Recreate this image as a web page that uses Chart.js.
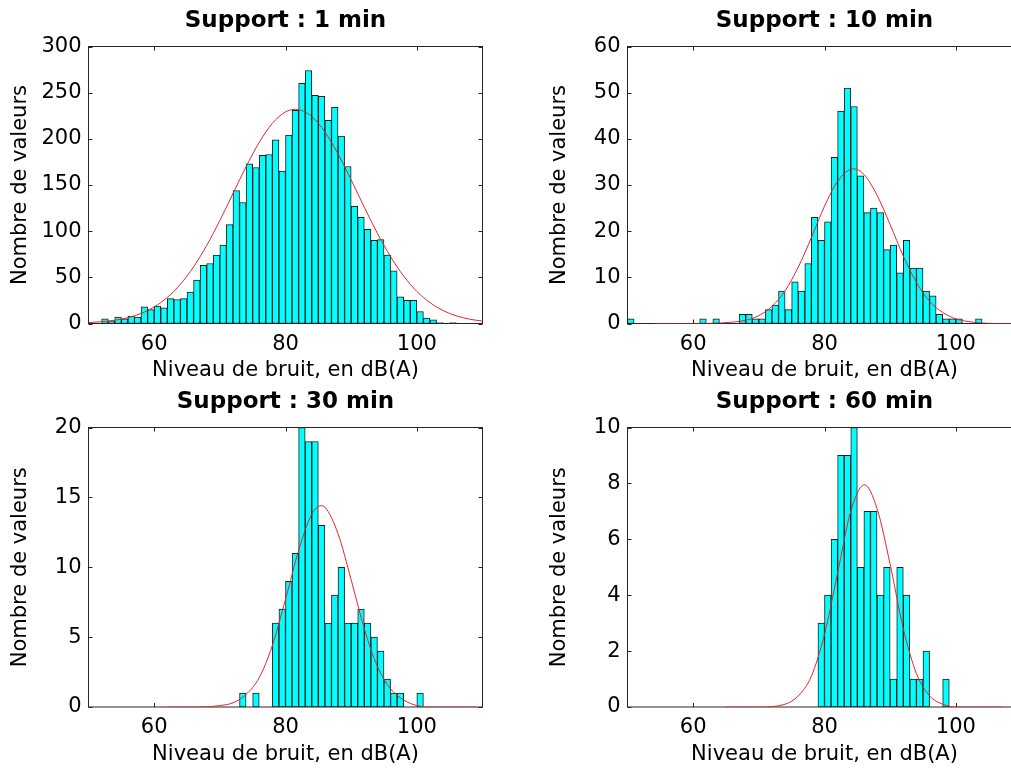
<!DOCTYPE html>
<html>
<head>
<meta charset="utf-8">
<script src="https://cdn.jsdelivr.net/npm/chart.js@4/dist/chart.umd.min.js"></script>
<style>
html,body{margin:0;padding:0;background:#fff;overflow:hidden;width:1011px;height:768px;position:relative;}
canvas{position:absolute;}
</style>
</head>
<body>
<script>
// ---------- DATA ----------
const xTicks = [60, 80, 100];
const xLabel = 'Niveau de bruit, en dB(A)';
const yLabel = 'Nombre de valeurs';

const title1 = 'Support : 1 min';
const hist1Start = 52;
const hist1Counts = [5,3,7,5,8,7,18,15,19,17,27,26,27,34,47,63,65,74,85,107,144,131,173,169,182,183,199,165,204,231,260,274,247,246,220,234,203,170,127,115,102,90,91,74,57,29,25,25,13,6,4,1,0,1];
const fit1X = [50,52,54,56,58,60,62,64,66,68,70,72,74,76,78,80,81.5,84,86,88,90,92,94,96,98,100,102,104,106,108,110];
const fit1Y = [1,1.9,3.5,6.3,10.9,17.9,28.2,42.5,61.3,84.5,111.5,140.7,169.9,196.2,216.8,229.1,232,224.1,207.4,183.6,155.5,126,97.6,72.4,51.3,34.8,22.6,14,8.3,4.7,2.6];
const y1Ticks = {max: 300, step: 50};

const title2 = 'Support : 10 min';
const hist2Start = 50;
const hist2Counts = [1,0,0,0,0,0,0,0,0,0,0,1,0,1,0,0,0,2,2,1,1,3,4,7,3,9,7,13,23,18,22,36,46,51,47,32,24,25,24,16,17,11,18,12,12,7,6,2,1,1,1,0,0,1];
const fit2X = [54,58,62,66,68,70,72,74,76,78,80,82,84.4,86,88,90,92,94,96,98,100,102,104,106,110];
const fit2Y = [0,0,0,0.3,0.7,1.7,3.7,7.1,12.2,18.6,25.4,30.8,33.5,32.3,27.8,21.4,14.6,8.9,4.8,2.4,1.0,0.4,0.1,0,0];
const y2Ticks = {max: 60, step: 10};

const title3 = 'Support : 30 min';
const hist3Start = 73;
const hist3Counts = [1,0,1,0,0,6,7,9,11,20,19,19,13,6,8,10,6,6,7,6,5,4,2,1,1,0,0,1];
const fit3X = [62,66,70,72,74,76,78,80,82,84,85.4,86,88,90,92,94,96,98,100,102,105,109];
const fit3Y = [0,0,0.1,0.3,0.9,2.1,4.4,7.7,11.2,13.8,14.4,14.3,12.4,9.1,5.6,2.9,1.3,0.5,0.1,0,0,0];
const y3Ticks = {max: 20, step: 5};

const title4 = 'Support : 60 min';
const hist4Start = 79;
const hist4Counts = [3,4,6,9,9,10,5,7,7,4,5,1,5,4,1,1,2,0,0,1];
const fit4X = [65,70,74,76,78,80,82,84,86.1,88,90,92,94,96,98,100,103,107];
const fit4Y = [0,0,0.1,0.4,1.1,2.6,4.8,7.0,7.95,7.1,5.1,2.8,1.2,0.4,0.1,0,0,0];
const y4Ticks = {max: 10, step: 2};

// ---------- LAYOUT / STYLE ----------
const FONT = 'DejaVu Sans';
const AXIS_W = 88.5;      // left axis block width
const PLOT_W = 394;
const CANVAS_W = AXIS_W * 2 + PLOT_W;
const TITLE_BLOCK = {top: 7.4, bottom: 11.5};

const framePlugin = {
  id: 'matlabFrame',
  beforeDatasetsDraw(chart) {
    const {ctx, chartArea: a, scales} = chart;
    const tl = 4;
    ctx.save();
    ctx.strokeStyle = '#262626';
    ctx.lineWidth = 1;
    ctx.strokeRect(a.left, a.top, a.right - a.left, a.bottom - a.top);
    ctx.beginPath();
    scales.x.ticks.forEach(t => {
      const px = Math.round(scales.x.getPixelForValue(t.value)) + 0.5;
      ctx.moveTo(px, a.bottom); ctx.lineTo(px, a.bottom - tl);
      ctx.moveTo(px, a.top); ctx.lineTo(px, a.top + tl);
    });
    scales.y.ticks.forEach(t => {
      const py = Math.round(scales.y.getPixelForValue(t.value)) + 0.5;
      ctx.moveTo(a.left, py); ctx.lineTo(a.left + tl, py);
      ctx.moveTo(a.right, py); ctx.lineTo(a.right - tl, py);
    });
    ctx.stroke();
    ctx.restore();
  }
};

function build(left, top, plotH, xAxisH, title, start, counts, fx, fy, yt) {
  const canvas = document.createElement('canvas');
  canvas.width = CANVAS_W;
  canvas.height = TITLE_BLOCK.top + 27.6 + TITLE_BLOCK.bottom + plotH + xAxisH;
  canvas.style.left = left + 'px';
  canvas.style.top = top + 'px';
  document.body.appendChild(canvas);

  const bars = counts.map((c, i) => ({x: start + i + 0.5, y: c}));
  const fit = fx.map((x, i) => ({x: x, y: fy[i]}));

  new Chart(canvas, {
    type: 'bar',
    data: {
      datasets: [
        {type: 'line', data: fit, borderColor: '#e3262c', borderWidth: 1, pointRadius: 0,
         cubicInterpolationMode: 'monotone', fill: false, order: 0},
        {type: 'bar', data: bars, backgroundColor: '#00ffff', borderColor: '#1b1b1b', borderWidth: 1,
         borderSkipped: false, barPercentage: 1, categoryPercentage: 1, order: 1}
      ]
    },
    options: {
      responsive: false,
      animation: false,
      events: [],
      layout: {padding: 0},
      plugins: {
        legend: {display: false},
        tooltip: {enabled: false},
        title: {display: true, text: title, color: '#000',
                font: {family: FONT, size: 23, weight: 'bold', lineHeight: 1.2},
                padding: {top: TITLE_BLOCK.top, bottom: TITLE_BLOCK.bottom}}
      },
      scales: {
        x: {
          type: 'linear', position: 'bottom', min: 50, max: 110, offset: false,
          afterBuildTicks: s => { s.ticks = xTicks.map(v => ({value: v})); },
          afterFit: s => { s.height = xAxisH; },
          grid: {display: false, drawTicks: false},
          border: {display: false},
          ticks: {color: '#000', font: {family: FONT, size: 21}, padding: 8, maxRotation: 0, autoSkip: false},
          title: {display: true, text: xLabel, color: '#000', font: {family: FONT, size: 21},
                  padding: {top: 0, bottom: xAxisH - 60.1}}
        },
        y: {
          type: 'linear', position: 'left', min: 0, max: yt.max,
          afterFit: s => { s.width = AXIS_W; },
          grid: {display: false, drawTicks: false},
          border: {display: false},
          ticks: {stepSize: yt.step, color: '#000', font: {family: FONT, size: 21}, padding: 7},
          title: {display: true, text: yLabel, color: '#000', font: {family: FONT, size: 21},
                  padding: {top: 7.9, bottom: 0}}
        },
        yR: {
          type: 'linear', position: 'right', display: true,
          afterFit: s => { s.width = CANVAS_W - AXIS_W - PLOT_W; },
          grid: {display: false, drawTicks: false},
          border: {display: false},
          ticks: {display: false},
          title: {display: false}
        }
      }
    },
    plugins: [framePlugin]
  });
}

build(0,   0,   277,   62.5, title1, hist1Start, hist1Counts, fit1X, fit1Y, y1Ticks);
build(539, 0,   277,   62.5, title2, hist2Start, hist2Counts, fit2X, fit2Y, y2Ticks);
build(0,   381, 279.5, 63,   title3, hist3Start, hist3Counts, fit3X, fit3Y, y3Ticks);
build(539, 381, 279.5, 63,   title4, hist4Start, hist4Counts, fit4X, fit4Y, y4Ticks);
</script>
</body>
</html>
